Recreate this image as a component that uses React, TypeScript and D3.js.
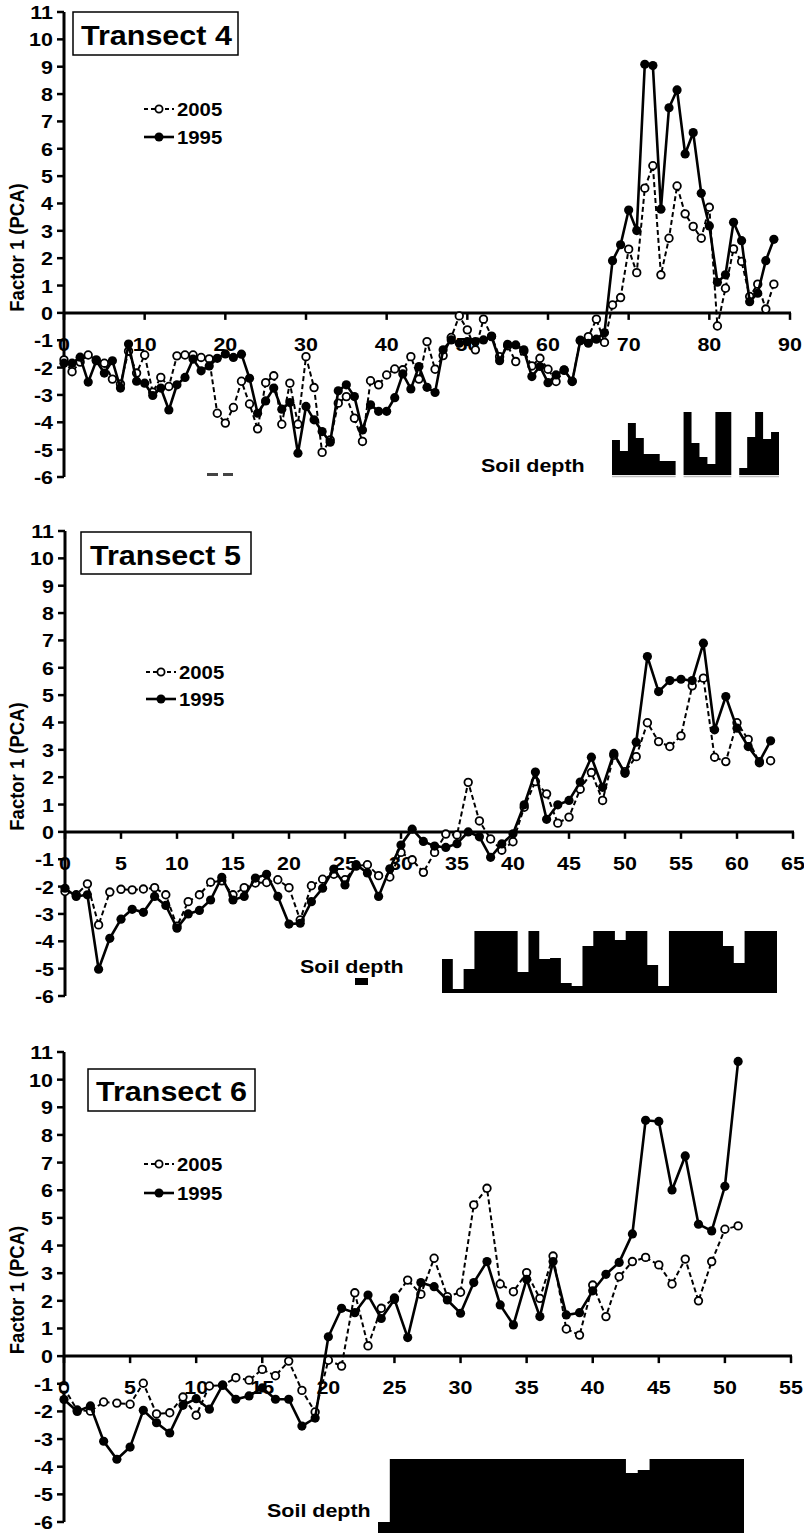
import React from 'react';
import * as d3 from 'd3';

const FONT = 'Arial, "Liberation Sans", Helvetica, sans-serif';
const SX = 1.13; // glyphs in the reference are a little wider than plain Arial

const yTicks = [-6, -5, -4, -3, -2, -1, 0, 1, 2, 3, 4, 5, 6, 7, 8, 9, 10, 11];
const seriesNames = ['2005', '1995'];

// Transect 4 (samples 0..88)
const t4_2005 = [
  -1.72, -2.15, -1.8, -1.54, -1.72, -1.84, -2.42, -2.6, -1.4, -2.2,
  -1.54, -2.9, -2.36, -2.69, -1.57, -1.54, -1.54, -1.63, -1.68, -3.67,
  -4.03, -3.46, -2.5, -3.33, -4.24, -2.55, -2.3, -4.07, -2.57, -4.07,
  -1.6, -2.73, -5.1, -4.65, -3.3, -3.06, -3.85, -4.7, -2.48, -2.63,
  -2.27, -2.05, -2.08, -1.6, -2.42, -1.05, -2.06, -1.56, -0.9, -0.11,
  -0.62, -1.35, -0.23, -0.85, -1.6, -1.2, -1.78, -1.4, -1.94, -1.66,
  -2.06, -2.51, -2.1, -2.5, -1.0, -0.87, -0.23, -1.08, 0.29, 0.56,
  2.33, 1.47, 4.56, 5.38, 1.39, 2.73, 4.64, 3.62, 3.16, 2.73,
  3.86, -0.48, 0.9, 2.34, 1.88, 0.6, 1.05, 0.14, 1.05,
];
const t4_1995 = [
  -1.84, -1.84, -1.62, -2.53, -1.75, -2.2, -1.75, -2.75, -1.14, -2.5,
  -2.57, -3.02, -2.75, -3.55, -2.63, -2.36, -1.69, -2.12, -1.94, -1.66,
  -1.5, -1.63, -1.51, -2.39, -3.67, -3.22, -2.75, -3.52, -3.28, -5.13,
  -3.42, -3.91, -4.34, -4.73, -2.85, -2.63, -3.06, -4.28, -3.36, -3.6,
  -3.6, -3.1, -2.23, -2.78, -1.96, -2.72, -2.91, -1.35, -0.99, -1.11,
  -1.05, -1.05, -0.99, -0.87, -1.75, -1.15, -1.17, -1.35, -2.33, -1.96,
  -2.55, -2.27, -2.08, -2.51, -1.02, -1.11, -0.96, -0.73, 1.91, 2.49,
  3.76, 3.01, 9.09, 9.04, 3.79, 7.5, 8.15, 5.81, 6.59, 4.37,
  3.18, 1.12, 1.39, 3.31, 2.64, 0.41, 0.72, 1.91, 2.69,
];
const t4Ticks = [0, 10, 20, 30, 40, 50, 60, 70, 80, 90];
// soil depth inset (null = gap between cores)
const t4Soil = [35, 24, 52, 37, 21, 21, 14, 14, null, 63, 32, 18, 11, 63, 63, null, 7, 38, 63, 36, 43];

// Transect 5 (samples 0..63)
const t5_2005 = [
  -2.18, -2.3, -1.9, -3.4, -2.2, -2.1, -2.12, -2.09, -2.04, -2.3,
  -3.45, -2.55, -2.3, -1.84, -1.79, -2.3, -2.04, -1.87, -1.85, -1.75,
  -2.04, -3.22, -1.97, -1.73, -1.55, -1.75, -1.25, -1.2, -1.6, -1.65,
  -0.75, -1.02, -1.48, -0.75, -0.08, -0.11, 1.81, 0.4, -0.26, -0.67,
  -0.36, 0.9, 1.84, 1.39, 0.32, 0.54, 1.56, 2.17, 1.15, 2.8,
  2.2, 2.75, 3.99, 3.3, 3.12, 3.51, 5.34, 5.62, 2.73, 2.57,
  3.99, 3.38, 2.53, 2.6,
];
const t5_1995 = [
  -2.06, -2.36, -2.3, -5.02, -3.89, -3.19, -2.83, -2.94, -2.36, -2.69,
  -3.52, -3.0, -2.87, -2.49, -1.66, -2.49, -2.36, -1.69, -1.55, -2.36,
  -3.37, -3.34, -2.55, -2.06, -1.36, -1.94, -1.2, -1.5, -2.36, -1.35,
  -0.48, 0.1, -0.35, -0.52, -0.57, -0.43, 0.0, -0.18, -0.93, -0.44,
  -0.07, 0.99, 2.19, 0.46, 0.99, 1.15, 1.82, 2.73, 1.63, 2.87,
  2.14, 3.28, 6.41, 5.13, 5.53, 5.58, 5.53, 6.9, 3.73, 4.95,
  3.79, 3.12, 2.57, 3.33,
];
const t5Ticks = [0, 5, 10, 15, 20, 25, 30, 35, 40, 45, 50, 55, 60, 65];
const t5Soil = [34, 4, 24, 62, 62, 62, 62, 21, 62, 34, 35, 10, 7, 47, 62, 62, 53, 62, 62, 28, 7, 62, 62, 62, 62, 62, 47, 30, 62, 62, 62];

// Transect 6 (samples 0..51)
const t6_2005 = [
  -1.15, -1.95, -1.99, -1.66, -1.7, -1.74, -0.98, -2.09, -2.05, -1.48,
  -2.14, -1.08, -1.05, -0.78, -0.87, -0.48, -0.71, -0.18, -1.24, -2.02,
  -0.15, -0.36, 2.29, 0.37, 1.73, 2.1, 2.75, 2.24, 3.54, 2.15,
  2.31, 5.47, 6.07, 2.61, 2.33, 3.02, 2.09, 3.62, 0.98, 0.76,
  2.57, 1.43, 2.87, 3.42, 3.57, 3.3, 2.61, 3.51, 2.0, 3.42,
  4.59, 4.71,
];
const t6_1995 = [
  -1.57, -2.0, -1.8, -3.08, -3.73, -3.29, -1.96, -2.41, -2.78, -1.78,
  -1.54, -1.92, -1.05, -1.56, -1.44, -1.15, -1.56, -1.56, -2.53, -2.24,
  0.7, 1.73, 1.57, 2.21, 1.36, 2.05, 0.67, 2.66, 2.51, 2.03,
  1.55, 2.66, 3.42, 1.85, 1.13, 2.78, 1.43, 3.42, 1.49, 1.57,
  2.36, 2.96, 3.39, 4.42, 8.53, 8.49, 6.01, 7.24, 4.77, 4.53,
  6.14, 10.66,
];
const t6Ticks = [0, 5, 10, 15, 20, 25, 30, 35, 40, 45, 50, 55];
const t6Soil = [18, 81, 81, 81, 81, 81, 81, 81, 81, 81, 81, 81, 81, 81, 81, 81, 81, 81, 81, 81, 81, 67, 70, 81, 81, 81, 81, 81, 81, 81, 81];

const panels = [
  {
    title: 'Transect 4', s2005: t4_2005, s1995: t4_1995, ticks: t4Ticks, xMax: 90,
    left: 64, right: 790, top: 12, bottom: 477,
    box: { x: 73, y: 12, w: 165, h: 43, tx: 81, ty: 45 },
    legend: { x: 144, y: [109, 137] },
    soil: { values: t4Soil, x0: 612, x1: 779, base: 475, max: 63, px: 63, baseline: true },
    soilLabel: { x: 481, y: 472 },
    marks: [{ x: 207, y: 473, w: 11, h: 3 }, { x: 223, y: 473, w: 10, h: 3 }],
  },
  {
    title: 'Transect 5', s2005: t5_2005, s1995: t5_1995, ticks: t5Ticks, xMax: 65,
    left: 65, right: 793, top: 531, bottom: 996,
    box: { x: 81, y: 532, w: 170, h: 42, tx: 90, ty: 565 },
    legend: { x: 146, y: [672, 699] },
    soil: { values: t5Soil, x0: 442, x1: 777, base: 993, max: 62, px: 62, baseline: false },
    soilLabel: { x: 300, y: 973 },
    marks: [{ x: 355, y: 978, w: 13, h: 7 }],
  },
  {
    title: 'Transect 6', s2005: t6_2005, s1995: t6_1995, ticks: t6Ticks, xMax: 55,
    left: 64, right: 791, top: 1052, bottom: 1522,
    box: { x: 88, y: 1069, w: 167, h: 42, tx: 96, ty: 1101 },
    legend: { x: 144, y: [1164, 1193] },
    soil: { values: t6Soil, x0: 378, x1: 744, base: 1540, max: 81, px: 81, baseline: false },
    soilLabel: { x: 267, y: 1517 },
    marks: [],
  },
];

const Txt = ({ x, y, size, anchor = 'start', rotate = false, children }: any) => (
  <text
    transform={`translate(${x},${y}) scale(${SX},1)${rotate ? ' rotate(-90)' : ''}`}
    fontFamily={FONT}
    fontWeight="bold"
    fontSize={size}
    textAnchor={anchor}
    fill="#000"
  >
    {children}
  </text>
);

const Panel = ({ p }: any) => {
  const x = d3.scaleLinear().domain([0, p.xMax]).range([p.left, p.right]);
  const y = d3.scaleLinear().domain([-6, 11]).range([p.bottom, p.top]);
  const y0 = y(0);
  const line = d3.line<number>().x((_, i) => x(i)).y(d => y(d));

  // soil depth inset: each core drawn as one stepped area so no seams show
  const vals: (number | null)[] = p.soil.values;
  const sx = d3.scaleLinear().domain([0, vals.length]).range([p.soil.x0, p.soil.x1]);
  const sy = d3.scaleLinear().domain([0, p.soil.max]).range([p.soil.base, p.soil.base - p.soil.px]);
  const groups: [number, number][] = [];
  let start = -1;
  vals.forEach((v, i) => {
    if (v != null && start < 0) start = i;
    if ((v == null || i === vals.length - 1) && start >= 0) {
      groups.push([start, v == null ? i : i + 1]);
      start = -1;
    }
  });
  const stepArea = d3.area<[number, number]>()
    .x(d => sx(d[0]))
    .y0(sy(0))
    .y1(d => sy(d[1]))
    .curve(d3.curveStepAfter);

  return (
    <g>
      {groups.map(([a, b], gi) => {
        const pts: [number, number][] = [];
        for (let i = a; i < b; i++) pts.push([i, vals[i] as number]);
        pts.push([b, vals[b - 1] as number]);
        return <path key={'s' + gi} d={stepArea(pts) || ''} fill="#000" />;
      })}
      {p.soil.baseline &&
        groups.map(([a, b], i) => (
          <line key={'g' + i} x1={sx(a)} x2={sx(b)} y1={p.soil.base + 1.5} y2={p.soil.base + 1.5} stroke="#bbb" strokeWidth={1.5} />
        ))}
      {p.marks.map((m: any, i: number) => (
        <rect key={'m' + i} x={m.x} y={m.y} width={m.w} height={m.h} fill={m.h > 4 ? '#000' : '#444'} />
      ))}
      <Txt x={p.soilLabel.x} y={p.soilLabel.y} size={19}>Soil depth</Txt>

      {/* y axis */}
      <line x1={p.left} x2={p.left} y1={y(11)} y2={y(-6)} stroke="#000" strokeWidth={3} />
      {yTicks.map(t => (
        <g key={'y' + t}>
          <line x1={p.left - 7} x2={p.left} y1={y(t)} y2={y(t)} stroke="#000" strokeWidth={2.5} />
          <Txt x={p.left - 11} y={y(t) + 7} size={19} anchor="end">{t}</Txt>
        </g>
      ))}
      <Txt x={24} y={y(2.5) + 3} size={18.5} anchor="middle" rotate>Factor 1 (PCA)</Txt>

      {/* x axis at zero */}
      <line x1={p.left} x2={p.right + 1} y1={y0} y2={y0} stroke="#000" strokeWidth={3} />
      {p.ticks.map((t: number) => (
        <g key={'x' + t}>
          <line x1={x(t)} x2={x(t)} y1={y0} y2={y0 + 7} stroke="#000" strokeWidth={2.5} />
          <Txt x={x(t)} y={y0 + 38} size={19} anchor="middle">{t}</Txt>
        </g>
      ))}

      {/* title */}
      <rect x={p.box.x} y={p.box.y} width={p.box.w} height={p.box.h} fill="#fff" stroke="#000" strokeWidth={1.5} />
      <Txt x={p.box.tx} y={p.box.ty} size={27}>{p.title}</Txt>

      {/* legend */}
      {seriesNames.map((name, i) => {
        const ly = p.legend.y[i];
        const lx = p.legend.x;
        return (
          <g key={name}>
            <line x1={lx} x2={lx + 30} y1={ly} y2={ly} stroke="#000" strokeWidth={i === 0 ? 2 : 2.6} strokeDasharray={i === 0 ? '4,3' : undefined} />
            {i === 0 ? (
              <circle cx={lx + 15} cy={ly} r={3.6} fill="#fff" stroke="#000" strokeWidth={1.8} />
            ) : (
              <circle cx={lx + 15} cy={ly} r={4.5} fill="#000" />
            )}
            <Txt x={lx + 33} y={ly + 6.5} size={18}>{name}</Txt>
          </g>
        );
      })}

      {/* series */}
      <path d={line(p.s2005) || ''} fill="none" stroke="#000" strokeWidth={2} strokeDasharray="5,3" />
      {p.s2005.map((v: number, i: number) => (
        <circle key={'o' + i} cx={x(i)} cy={y(v)} r={3.8} fill="#fff" stroke="#000" strokeWidth={1.8} />
      ))}
      <path d={line(p.s1995) || ''} fill="none" stroke="#000" strokeWidth={2.6} />
      {p.s1995.map((v: number, i: number) => (
        <circle key={'f' + i} cx={x(i)} cy={y(v)} r={4.6} fill="#000" />
      ))}
    </g>
  );
};

export default function App() {
  return (
    <svg width={804} height={1533} style={{ position: 'absolute', left: 0, top: 0, background: '#fff' }}>
      <rect width={804} height={1533} fill="#fff" />
      {panels.map(p => (
        <Panel key={p.title} p={p} />
      ))}
    </svg>
  );
}
